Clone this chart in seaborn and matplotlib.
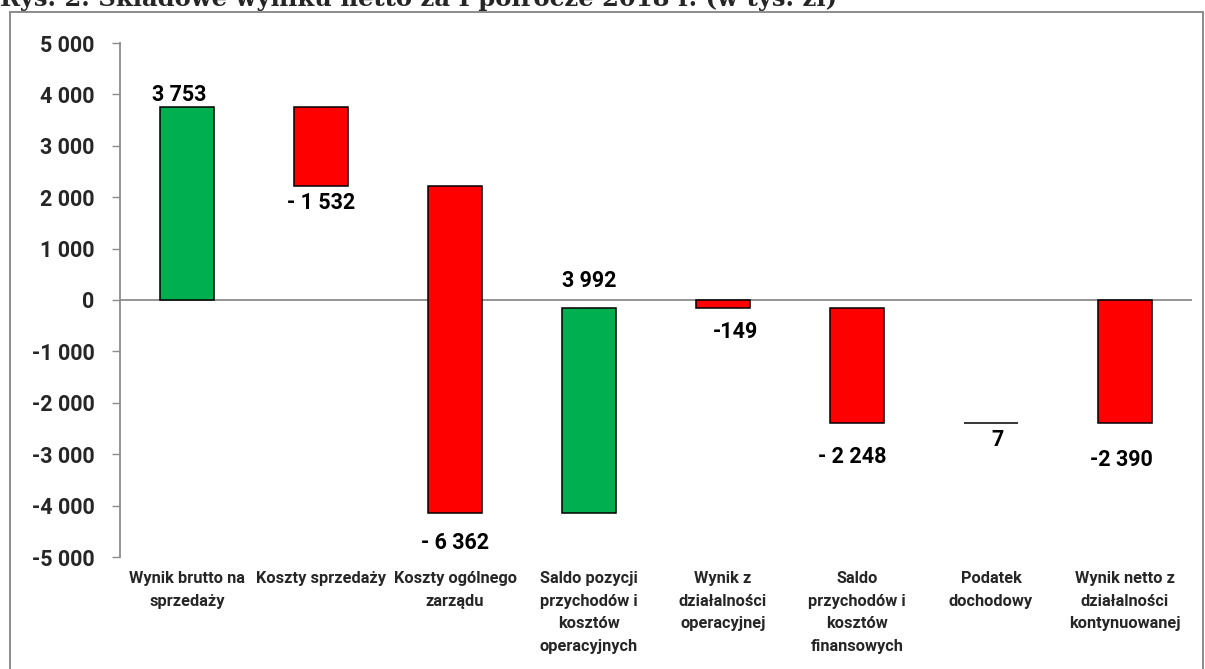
import seaborn as sns
import matplotlib.pyplot as plt
from matplotlib.patches import Rectangle
import numpy as np
import pandas as pd

# chart data
categories = ["Wynik brutto na\nsprzedaży", "Koszty sprzedaży", "Koszty ogólnego\nzarządu",
              "Saldo pozycji\nprzychodów i\nkosztów\noperacyjnych",
              "Wynik z\ndziałalności\noperacyjnej",
              "Saldo\nprzychodów i\nkosztów\nfinansowych", "Podatek\ndochodowy",
              "Wynik netto z\ndziałalności\nkontynuowanej"]
values = [3753, -1532, -6362, 3992, -149, -2248, 7, -2390]
is_total = [True, False, False, False, True, False, False, True]
value_labels = ["3 753", "- 1 532", "- 6 362", "3 992", "-149", "- 2 248", "7", "-2 390"]
yticks = np.arange(-5000, 5001, 1000)
title = "Rys. 2. Składowe wyniku netto za I półrocze 2018 r. (w tys. zł)"

# label nudges (pixels) - placed by hand like in the original
label_dx = [-8, 0, 0, 0, 13, -5, 6, -4]
label_dy = [6, -23, -36, 21, -30, -40, -23, -43]

# waterfall: start of each bar
bottoms = []
running = 0
for v, tot in zip(values, is_total):
    if tot:
        bottoms.append(0)
        running = v
    else:
        bottoms.append(running)
        running += v

df = pd.DataFrame({"cat": categories, "height": values, "bottom": bottoms})

sns.set_style("white")
plt.rcParams["font.family"] = ["Roboto", "DejaVu Sans"]

GREEN = "#00B050"
RED = "#FF0000"
GRAY = "#8c8c8c"

fig = plt.figure(figsize=(12.05, 6.69), dpi=100)
ax = fig.add_axes([120 / 1205, 1 - 557 / 669, 1072 / 1205, 514 / 669])

sns.barplot(data=df, x="cat", y="height", order=categories, bottom=df["bottom"].values,
            color=GREEN, width=0.41, edgecolor="black", linewidth=1.1,
            errorbar=None, ax=ax)

for patch, v in zip(ax.patches, values):
    patch.set_facecolor(GREEN if v > 0 else RED)

# value labels
for i, (b, v, txt) in enumerate(zip(bottoms, values, value_labels)):
    ax.annotate(txt, xy=(i, b + v), xytext=(label_dx[i], label_dy[i]),
                textcoords="offset pixels", ha="center", va="baseline",
                fontsize=15.5, fontweight="bold", color="black")

ax.axhline(0, color=GRAY, lw=1.3, zorder=0)
ax.set_ylim(-5000, 5000)
ax.set_xlim(-0.5, len(categories) - 0.5)
ax.set_yticks(yticks)
ax.set_yticklabels([f"{t:,}".replace(",", " ") for t in yticks],
                   fontsize=15.5, fontweight="bold")
ax.set_xticks(range(len(categories)))
ax.set_xticklabels(categories, fontsize=11.8, fontweight="bold", linespacing=1.65)
ax.set_xlabel("")
ax.set_ylabel("")
ax.tick_params(axis="y", direction="out", length=5.5, width=1, color=GRAY, pad=13, left=True)
ax.tick_params(axis="x", length=0, pad=10)

for s in ["top", "right", "bottom"]:
    ax.spines[s].set_visible(False)
ax.spines["left"].set_color(GRAY)
ax.spines["left"].set_linewidth(1.3)

# outer frame of the chart object
frame = Rectangle((10 / 1205, -0.05), (1203 - 10) / 1205, 1 - 12 / 669 + 0.05,
                  transform=fig.transFigure, fill=False, edgecolor=GRAY, lw=1.4)
fig.add_artist(frame)

# title (cut off at the top like in the source)
fig.text(0.0, 1 - 6 / 669, title, ha="left", va="baseline", fontsize=17.5,
         fontweight="bold", family=["DejaVu Serif"])

fig.savefig("out.png", dpi=100)
plt.close()
